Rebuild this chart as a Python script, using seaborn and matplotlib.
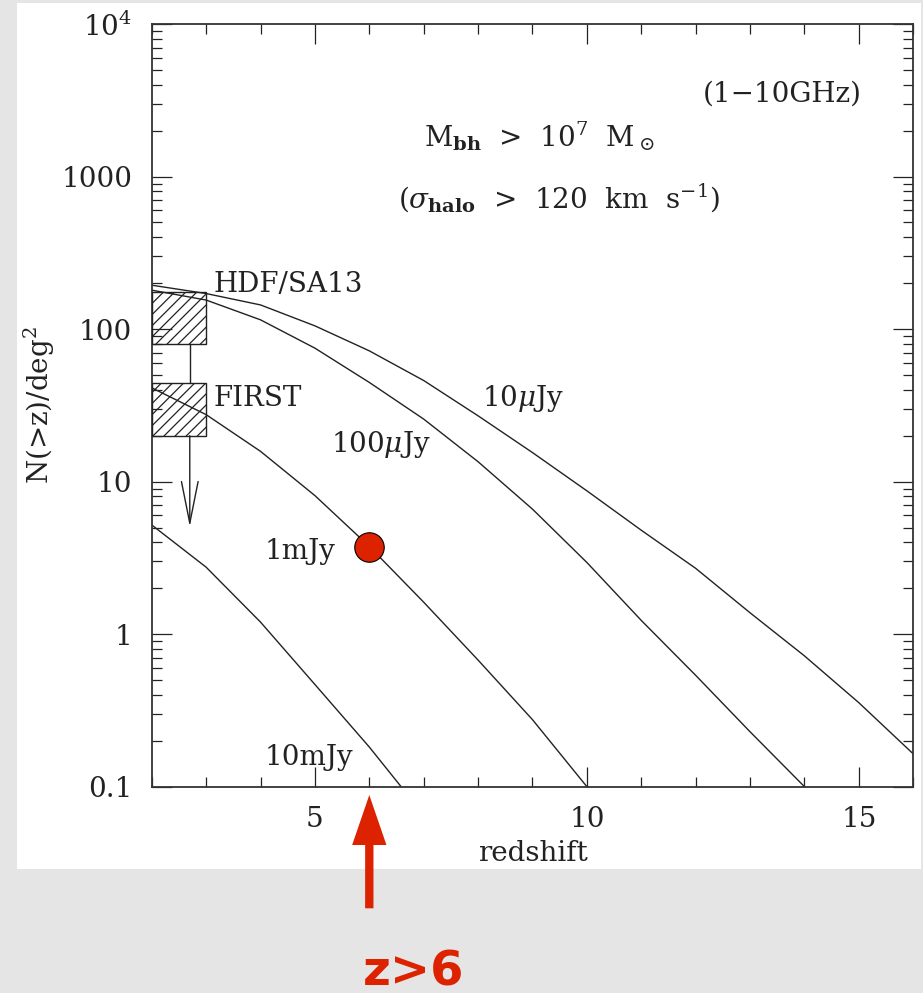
import numpy as np
import pandas as pd
import matplotlib
matplotlib.use("Agg")
import matplotlib.pyplot as plt
import seaborn as sns
from matplotlib.patches import Rectangle, FancyArrowPatch
from matplotlib import transforms
from matplotlib.ticker import FixedLocator, FixedFormatter, LogLocator, MultipleLocator, NullFormatter

# ---------------- data ----------------
z_10uJy = [2, 3, 4, 5, 6, 7, 8, 9, 10, 11, 12, 13, 14, 15, 16]
n_10uJy = [194, 171, 144, 105, 72, 46, 27, 15.5, 8.7, 4.8, 2.7, 1.38, 0.72, 0.355, 0.164]

z_100uJy = [2, 3, 4, 5, 6, 7, 8, 9, 10, 11, 12, 13, 14]
n_100uJy = [180, 155, 115, 75, 44.7, 25.7, 13.5, 6.6, 2.95, 1.23, 0.537, 0.229, 0.1]

z_1mJy = [2, 3, 4, 5, 6, 7, 8, 9, 10]
n_1mJy = [41.2, 27.5, 15.8, 8.1, 3.76, 1.62, 0.676, 0.275, 0.1]

z_10mJy = [2, 3, 4, 5, 6, 6.585]
n_10mJy = [5.2, 2.75, 1.2, 0.468, 0.182, 0.1]

curve_labels = ["10$\\mu$Jy", "100$\\mu$Jy", "1mJy", "10mJy"]
label_z = [8.08, 5.30, 4.08, 4.08]
label_n = [31.3, 15.7, 3.13, 0.138]

# observational boxes (z range, N range)
box_names = ["HDF/SA13", "FIRST"]
box_z0 = [2.0, 2.0]
box_z1 = [3.0, 3.0]
box_low = [79.4, 20.0]
box_high = [176.0, 44.4]
box_label_n = [176.0, 31.4]
limit_z = 2.70
limit_tip = 5.06

# highlighted point
highlight_z = 6.0
highlight_n = 3.72

x_ticks = [5, 10, 15]
y_ticks = [0.1, 1, 10, 100, 1000, 1e4]
y_ticklabels = ["0.1", "1", "10", "100", "1000", "10$^4$"]

# ---------------- style ----------------
sns.set_theme(style="ticks")
plt.rcParams["font.family"] = ["DejaVu Serif"]
plt.rcParams["mathtext.fontset"] = "dejavuserif"
plt.rcParams["font.size"] = 20
plt.rcParams["hatch.linewidth"] = 0.9
plt.rcParams["hatch.color"] = "#222222"

W, H = 923, 993
fig = plt.figure(figsize=(W / 100, H / 100), dpi=100, facecolor="#e5e5e5")
fig.patches.append(Rectangle((17 / W, 1 - 868.5 / H), (921 - 17) / W, (868.5 - 3) / H,
                             transform=fig.transFigure, facecolor="white",
                             edgecolor="none", zorder=-5))
ax = fig.add_axes([151.7 / W, 1 - 786.7 / H, (913.3 - 151.7) / W, (786.7 - 24) / H])
ax.set_facecolor("none")
ax.set_zorder(2)

ink = "#222222"
df = pd.concat([
    pd.DataFrame({"z": z_10uJy, "N": n_10uJy, "flux": "10uJy"}),
    pd.DataFrame({"z": z_100uJy, "N": n_100uJy, "flux": "100uJy"}),
    pd.DataFrame({"z": z_1mJy, "N": n_1mJy, "flux": "1mJy"}),
    pd.DataFrame({"z": z_10mJy, "N": n_10mJy, "flux": "10mJy"}),
])
sns.lineplot(data=df, x="z", y="N", units="flux", estimator=None, sort=False,
             color=ink, lw=1.0, ax=ax, legend=False)

ax.set_yscale("log")
ax.set_xlim(2, 16)
ax.set_ylim(0.1, 1e4)

# boxes
for name, z0, z1, lo, hi, ln in zip(box_names, box_z0, box_z1, box_low, box_high, box_label_n):
    ax.add_patch(Rectangle((z0, lo), z1 - z0, hi - lo, facecolor="none",
                           edgecolor=ink, hatch="///", lw=1.0, zorder=3))
    ax.text(z1 + 0.13, ln, name, ha="left", va="baseline", fontsize=20, color=ink)

# upper-limit connector + arrow
ax.plot([limit_z, limit_z], [box_low[0], box_high[1]], color=ink, lw=1.0)
ax.annotate("", xy=(limit_z, limit_tip), xytext=(limit_z, box_low[1]),
            arrowprops=dict(arrowstyle="->,head_length=30,head_width=6",
                            mutation_scale=1, shrinkA=0, shrinkB=0,
                            color=ink, lw=1.0))

# curve labels
for lab, zx, ny in zip(curve_labels, label_z, label_n):
    ax.text(zx, ny, lab, ha="left", va="baseline", fontsize=20, color=ink)

ax.text(15.06, 3093, "(1\u221210GHz)", ha="right", va="baseline", fontsize=20, color=ink)
ax.text(7.01, 1568, r"M$_{\mathbf{bh}}$  >  10$^7$  M$_\odot$", ha="left",
        va="baseline", fontsize=20, color=ink)
ax.text(6.52, 618, r"($\sigma_{\mathbf{halo}}$  >  120  km  s$^{-1}$)", ha="left",
        va="baseline", fontsize=20, color=ink)

# highlighted point
sns.scatterplot(x=[highlight_z], y=[highlight_n], s=450, color="#dd2200",
                edgecolor="black", linewidth=0.8, zorder=6, ax=ax, legend=False)

# axes / ticks
ax.xaxis.set_major_locator(FixedLocator(x_ticks))
ax.xaxis.set_minor_locator(MultipleLocator(1))
ax.yaxis.set_major_locator(FixedLocator(y_ticks))
ax.yaxis.set_major_formatter(FixedFormatter(y_ticklabels))
ax.yaxis.set_minor_locator(LogLocator(base=10, subs=np.arange(2, 10), numticks=20))
ax.yaxis.set_minor_formatter(NullFormatter())
ax.tick_params(which="both", direction="in", top=True, right=True,
               width=0.9, color=ink, labelcolor=ink, labelsize=20)
ax.tick_params(which="major", length=14.5, pad=14)
ax.tick_params(which="minor", length=7.5)
for s in ax.spines.values():
    s.set_linewidth(1.3)
    s.set_color("#333333")

ax.set_xlabel("redshift", fontsize=20, color=ink)
ax.set_ylabel("N(>z)/deg$^2$", fontsize=20, color=ink)
ax.xaxis.set_label_coords(0.5, -0.0699)
ax.yaxis.set_label_coords(-0.1247, 0.5)

# red arrow and label marking z > 6
blend = transforms.blended_transform_factory(ax.transData, fig.transFigure)
arrow = FancyArrowPatch((highlight_z, 1 - 908.3 / H), (highlight_z, 1 - 795 / H),
                        transform=blend,
                        arrowstyle="simple,head_length=36,head_width=24.7,tail_width=6",
                        mutation_scale=1, shrinkA=0, shrinkB=0,
                        color="#dd2200", lw=0, clip_on=False, zorder=5)
fig.add_artist(arrow)
fig.text(414 / W, 1 - 985.5 / H, "z>6", ha="center", va="baseline",
         fontsize=34.5, fontweight="bold", color="#dd2200", family="DejaVu Sans")

fig.savefig("out.png", dpi=100, facecolor=fig.get_facecolor())
